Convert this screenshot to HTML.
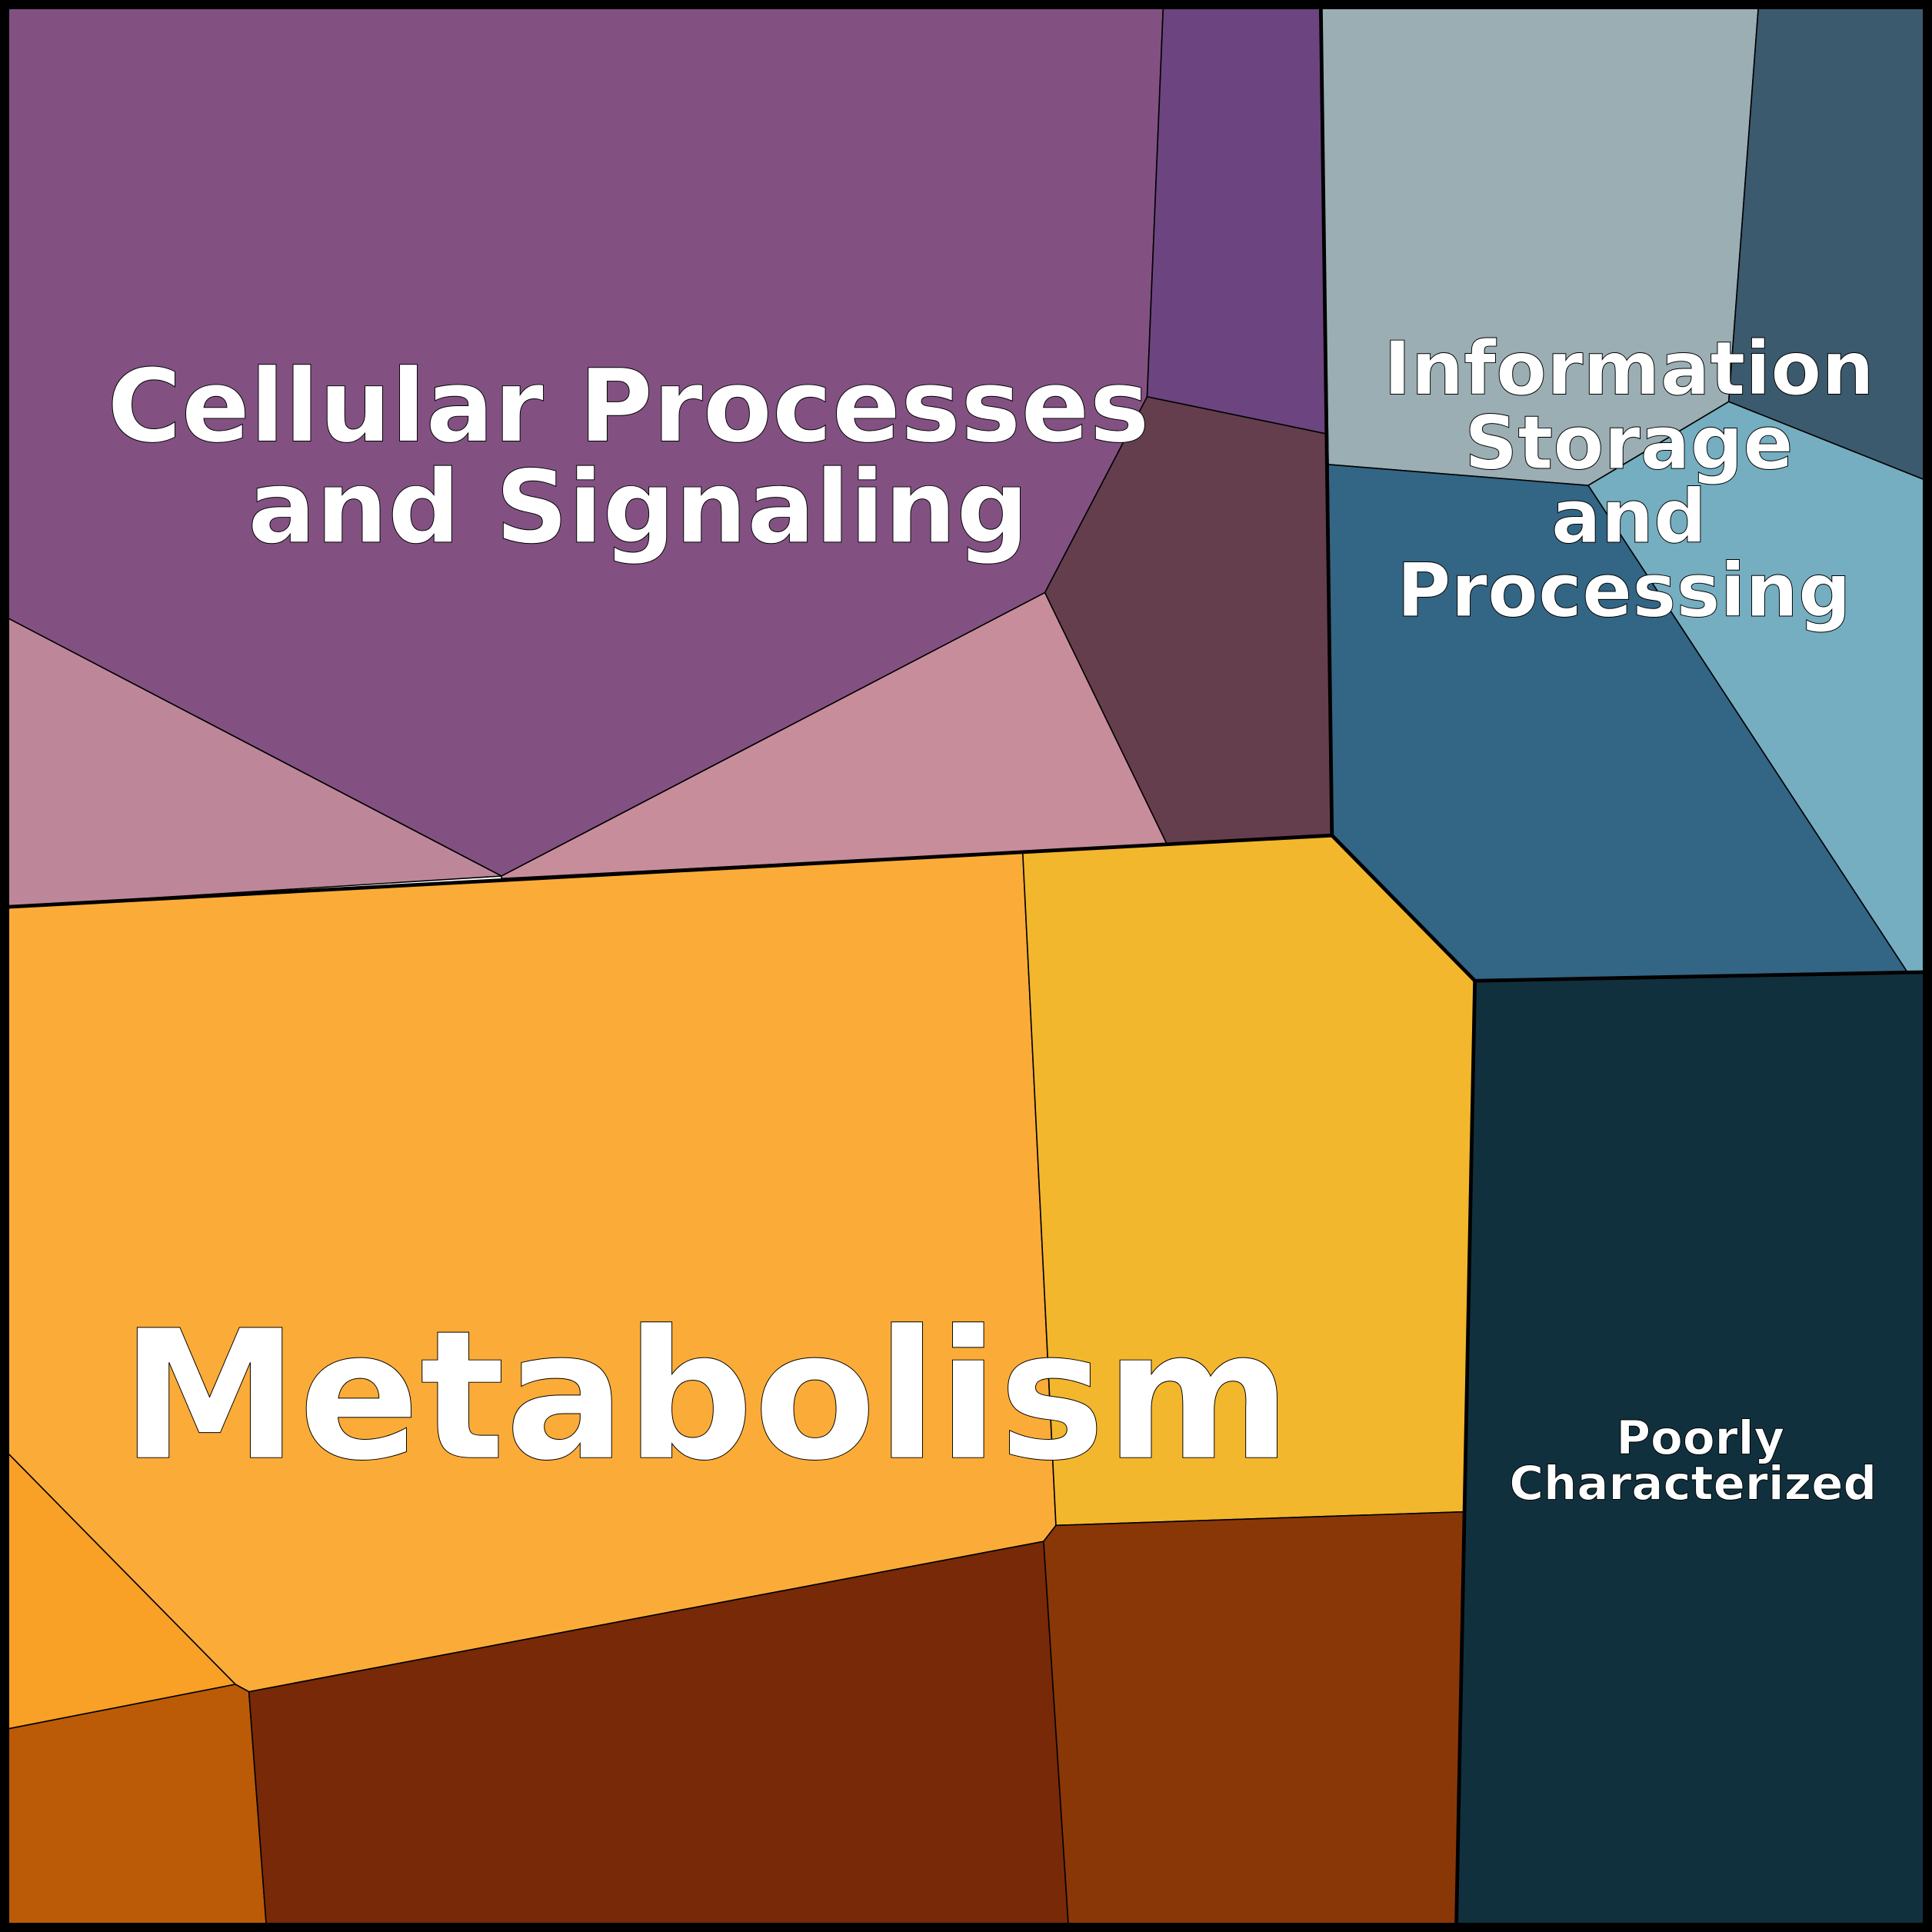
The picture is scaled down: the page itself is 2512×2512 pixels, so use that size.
<!DOCTYPE html>
<html><head><meta charset="utf-8"><style>
html,body{margin:0;padding:0;background:#fff;}
svg{display:block;}
text{font-family:"DejaVu Sans","Liberation Sans",sans-serif;font-weight:bold;fill:#fff;stroke:#000;stroke-width:0.6;text-anchor:middle;}
</style></head><body>
<svg width="2512" height="2512" viewBox="0 0 1568 1568" xmlns="http://www.w3.org/2000/svg">
<g stroke="#000" stroke-width="1" stroke-linejoin="round">
<polygon fill="#825182" points="7,7 944,7 931,322 848,481 407,711 7,502"/>
<polygon fill="#6c4480" points="944,7 1072,7 1076,352 931,322"/>
<polygon fill="#653e4e" points="931,322 1076,352 1081,678 947,685 848,481"/>
<polygon fill="#be8799" points="7,502 407,711 7,736"/>
<polygon fill="#c88d9b" points="407,711 848,481 947,685 407,713"/>
<polygon fill="#9aaeb3" points="1072,7 1427,7 1403,326 1289,394 1078,377"/>
<polygon fill="#3c5a6e" points="1427,7 1561,7 1561,389 1403,326"/>
<polygon fill="#74aec0" points="1403,326 1561,389 1561,789 1548,789 1289,394"/>
<polygon fill="#336585" points="1078,377 1289,394 1548,789 1197,796 1081,678"/>
<polygon fill="#11303d" points="1197,796 1561,789 1561,1561 1182,1561"/>
<polygon fill="#fbac38" points="7,736 830,691 857,1238 847,1251 202,1373 191,1367 7,1180"/>
<polygon fill="#f3b72d" points="830,691 1081,678 1197,796 1188,1227 857,1238"/>
<polygon fill="#f9a026" points="7,1180 191,1367 7,1403"/>
<polygon fill="#bb5b08" points="7,1403 191,1367 202,1373 216,1561 7,1561"/>
<polygon fill="#782907" points="202,1373 847,1251 867,1561 216,1561"/>
<polygon fill="#8a3707" points="847,1251 857,1238 1188,1227 1182,1561 867,1561"/>
</g>
<g stroke="#000" stroke-width="3" fill="none" stroke-linejoin="round">
<polyline points="7,736 1081,678"/>
<polyline points="1072,7 1081,678 1197,796 1561,789"/>
<polyline points="1197,796 1182,1561"/>
</g>
<rect x="3.5" y="3.5" width="1561" height="1561" fill="none" stroke="#000" stroke-width="7"/>
<text x="510" y="358" font-size="82">Cellular Processes</text>
<text x="518" y="440" font-size="82">and Signaling</text>
<text x="573" y="1183" font-size="145">Metabolism</text>
<text x="1322" y="320" font-size="60">Information</text>
<text x="1322" y="380" font-size="60">Storage</text>
<text x="1322" y="440" font-size="60">and</text>
<text x="1318" y="500" font-size="60">Processing</text>
<text x="1380" y="1180" font-size="38">Poorly</text>
<text x="1374" y="1217" font-size="38">Characterized</text>
</svg>
</body></html>
